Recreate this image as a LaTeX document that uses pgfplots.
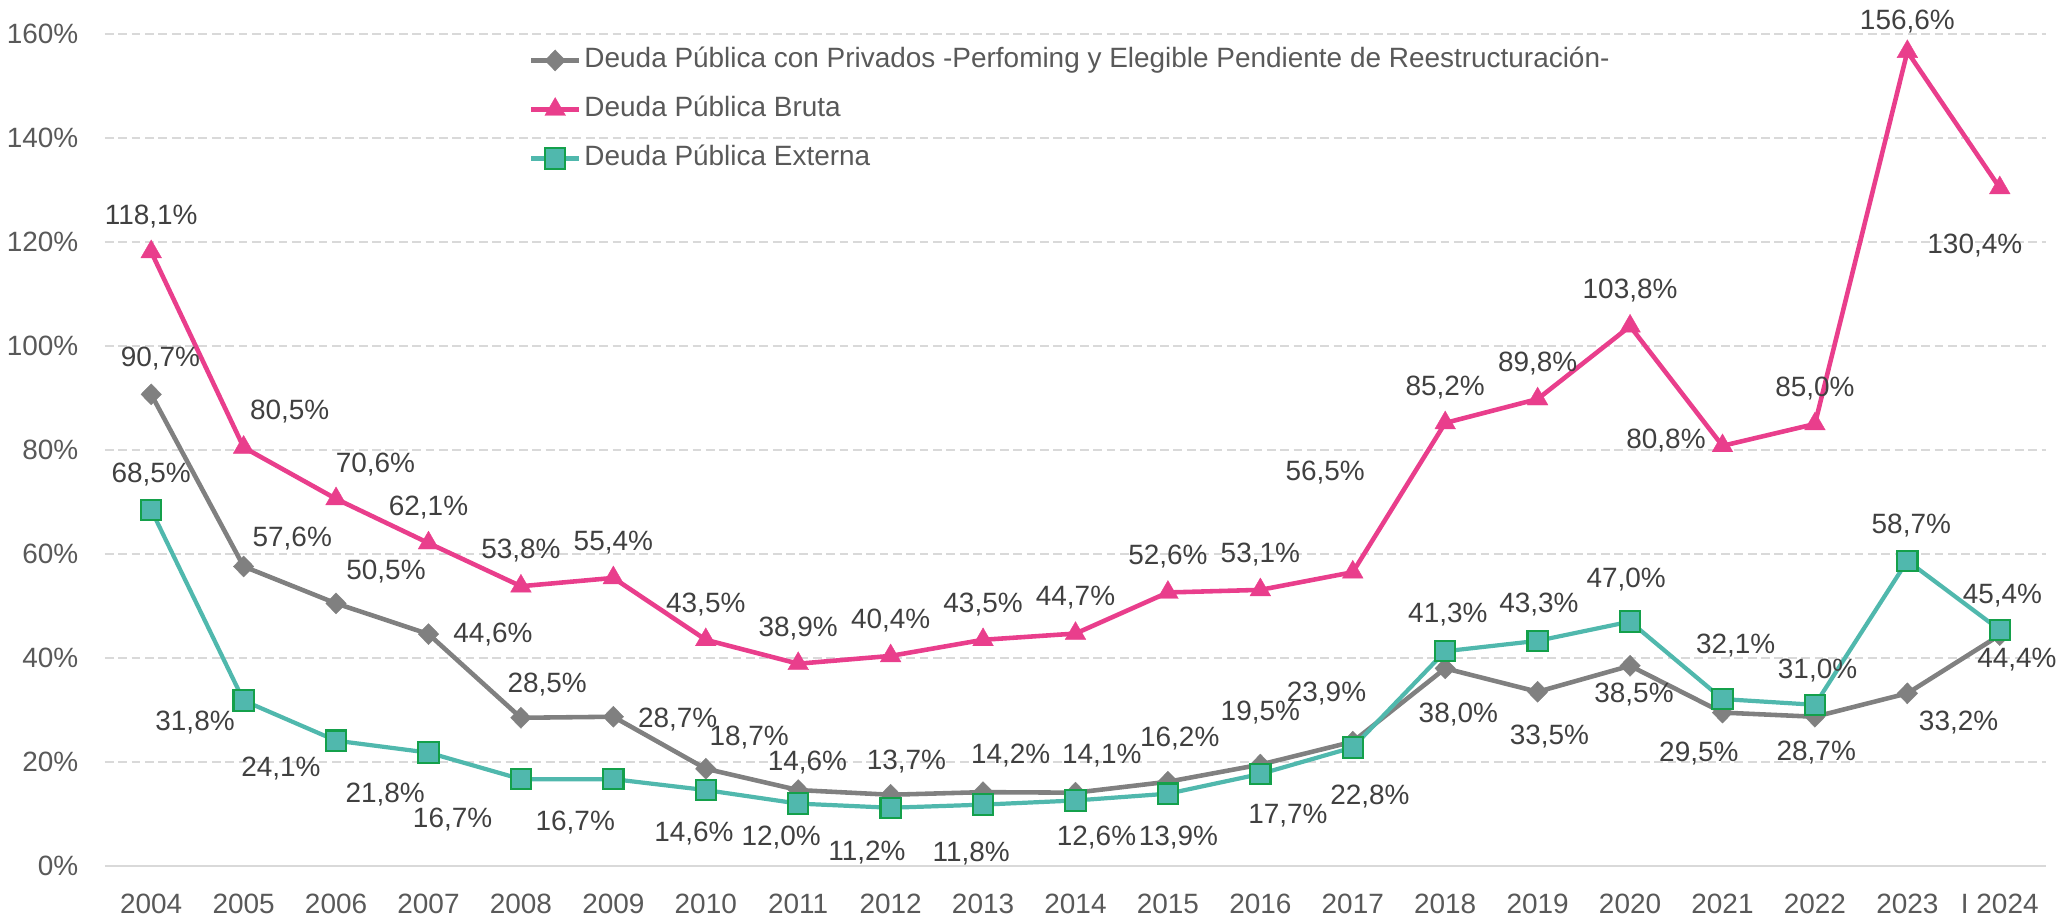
\documentclass[border=0pt]{standalone}
\usepackage{pgfplots}
\usepackage{pgfplotstable}
\pgfplotsset{compat=1.18}
\usepackage{fontspec}
\setmainfont{Liberation Sans}
\definecolor{cgray}{RGB}{128,128,128}
\definecolor{cpink}{RGB}{233,62,140}
\definecolor{cteal}{RGB}{80,184,173}
\definecolor{cgreen}{RGB}{20,160,75}
\definecolor{ctext}{RGB}{64,64,64}
\definecolor{ctick}{RGB}{89,89,89}
\definecolor{cgrid}{RGB}{217,217,217}

% dx, dy: label offsets (up positive), in units of 0.3738pt
\pgfplotstableread{
x y dx dy
0 90.7 7 27
1 57.6 37 21
2 50.5 38 24
3 44.6 49 0
4 28.5 20 25
5 28.7 49 -2
6 18.7 33 24
7 14.6 7 21
8 13.7 12 25
9 14.2 21 28
10 14.1 20 28
11 16.2 9 33
12 19.5 0 40
13 23.9 -20 37
14 38.0 10 -35
15 33.5 9 -34
16 38.5 3 -22
17 29.5 -18 -31
18 28.7 1 -27
19 33.2 39 -22
20 44.4 13 -19
}\tabgray

\pgfplotstableread{
x y dx dy
0 118.1 0 27
1 80.5 35 27
2 70.6 30 26
3 62.1 0 27
4 53.8 0 27
5 55.4 0 27
6 43.5 0 27
7 38.9 0 27
8 40.4 0 27
9 43.5 0 27
10 44.7 0 27
11 52.6 0 27
12 53.1 0 27
13 56.5 -21 76
14 85.2 0 27
15 89.8 0 27
16 103.8 0 27
17 80.8 -43 4
18 85.0 0 27
19 156.6 0 23
20 130.4 -19 -44
}\tabpink

\pgfplotstableread{
x y dx dy
0 68.5 0 27
1 31.8 -37 -17
2 24.1 -42 -21
3 21.8 -33 -32
4 16.7 -52 -31
5 16.7 -29 -33
6 14.6 -9 -33
7 12.0 -13 -26
8 11.2 -18 -34
9 11.8 -9 -37
10 12.6 16 -28
11 13.9 8 -33
12 17.7 21 -32
13 22.8 13 -37
14 41.3 2 28
15 43.3 1 28
16 47.0 -3 32
17 32.1 10 41
18 31.0 2 26
19 58.7 3 27
20 45.4 2 26
}\tabteal

\begin{document}
\begin{tikzpicture}[font=\fontsize{7.95pt}{9.5pt}\selectfont]
\begin{axis}[
  at={(0,0)}, anchor=south west,
  scale only axis, width=19.41cm, height=8.32cm,
  xmin=-0.5, xmax=20.5, ymin=0, ymax=160,
  clip=false,
  axis line style={draw=none},
  major tick length=0pt,
  /pgf/number format/assume math mode=true,
  xtick={0,...,20},
  xticklabels={2004,2005,2006,2007,2008,2009,2010,2011,2012,2013,2014,2015,2016,2017,2018,2019,2020,2021,2022,2023,I 2024},
  xticklabel style={anchor=base, inner sep=0pt, yshift=-0.475cm, text=ctick},
  ytick={0,20,...,160},
  yticklabels={0\%,20\%,40\%,60\%,80\%,100\%,120\%,140\%,160\%},
  yticklabel style={anchor=east, inner sep=0pt, xshift=-0.26cm, text=ctick},
  ymajorgrids,
  grid style={cgrid, line width=0.6pt, dash pattern=on 2.5pt off 1.3pt},
  visualization depends on={\thisrow{dx} \as \dx},
  visualization depends on={\thisrow{dy} \as \dy},
  nodes near coords={\pgfmathprintnumber[fixed,fixed zerofill,precision=1,use comma]{\pgfplotspointmeta}\%},
  every node near coord/.append style={anchor=center, inner sep=0pt, text=ctext, xshift=\dx*0.3738pt, yshift=\dy*0.3738pt},
  legend image code/.code={\draw[mark repeat=2,mark phase=2,#1] plot coordinates {(0cm,0cm) (0.24cm,0cm) (0.48cm,0cm)};},
  legend cell align=left,
  legend style={at={(0.2184,0.9844)}, anchor=north west, draw=none, fill=none,
    inner sep=0pt, outer sep=0pt, row sep=0.22cm, column sep=0.03cm,
    nodes={inner sep=0pt, text height=0.21cm, text depth=0.06cm, text=ctick, anchor=west}},
]
\draw[cgrid, line width=0.7pt] (axis cs:-0.5,0) -- (axis cs:20.5,0);
\addplot[cgray, line width=1.3pt, mark=diamond*, mark size=3pt,
  mark options={fill=cgray, draw=cgray, line width=0.1pt, xscale=1.3}]
  table[x=x,y=y]{\tabgray};
\addlegendentry{Deuda Pública con Privados -Perfoming y Elegible Pendiente de Reestructuración-}
\addplot[cpink, line width=1.3pt, mark=triangle*, mark size=3.4pt,
  mark options={fill=cpink, draw=cpink, line width=0.1pt}]
  table[x=x,y=y]{\tabpink};
\addlegendentry{Deuda Pública Bruta}
\addplot[cteal, line width=1.2pt, mark=square*, mark size=2.9pt,
  mark options={fill=cteal, draw=cgreen, line width=0.6pt}]
  table[x=x,y=y]{\tabteal};
\addlegendentry{Deuda Pública Externa}
\end{axis}
\pgfresetboundingbox
\path (-1.05cm,-0.49cm) rectangle (19.55cm,8.66cm);
\end{tikzpicture}
\end{document}
